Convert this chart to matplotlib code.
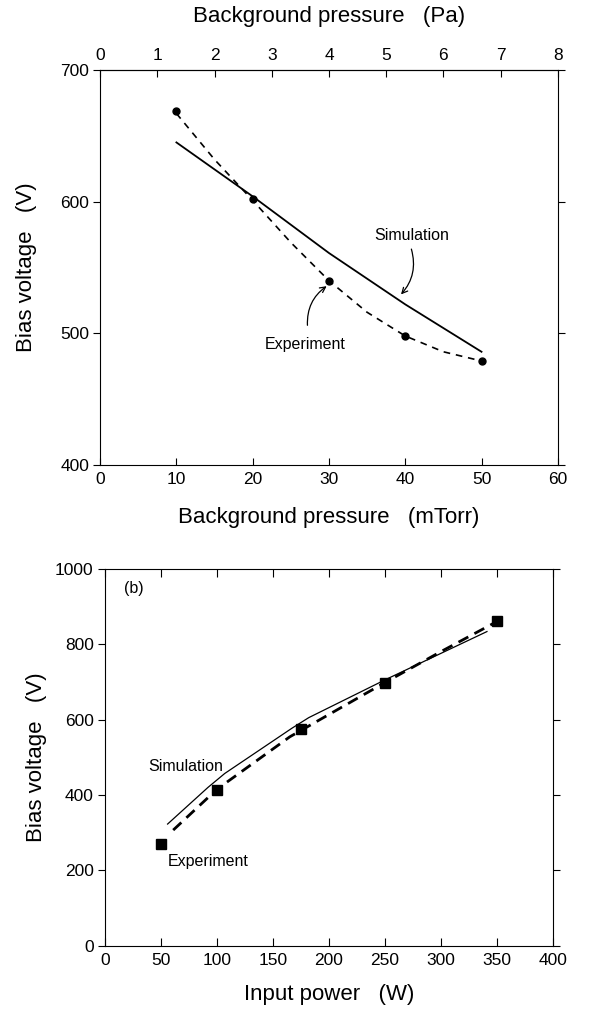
import matplotlib.pyplot as plt

plt.rcParams['font.family'] = ['Liberation Sans', 'DejaVu Sans']

# (a) bias voltage vs background pressure
pressure_mtorr = [10, 20, 30, 40, 50]
exp_bias_a = [669, 602, 540, 498, 479]
# dashed fit curve
exp_curve_x = [10, 15, 20, 25, 30, 35, 40, 45, 50]
exp_curve_y = [667, 632, 601, 569, 540, 516, 498, 486, 479]
sim_x_a = [10, 20, 30, 40, 50]
sim_y_a = [645, 604, 561, 522, 486]

# (b) bias voltage vs input power
power_w = [50, 100, 175, 250, 350]
exp_bias_b = [270, 413, 576, 698, 862]
exp_curve_bx = [61, 100, 165, 250, 300, 347]
exp_curve_by = [307, 415, 554, 698, 780, 855]
sim_x_b = [56, 92, 107, 167, 182, 250, 341]
sim_y_b = [323, 420, 457, 577, 605, 705, 833]

fig = plt.figure(figsize=(5.89, 10.10), dpi=100)

TICK = 12.5
LABEL = 16
NOTE = 11.5

##################################################
# top panel
##################################################
ax1 = fig.add_axes([0.170, 0.5396, 0.777, 0.3911])
ax1.plot(sim_x_a, sim_y_a, color='black', lw=1.3)
ax1.plot(exp_curve_x, exp_curve_y, color='black', lw=1.2, ls=(0, (4, 3.5)))
ax1.plot(pressure_mtorr, exp_bias_a, 'o', color='black', ms=5)
ax1.set_xlim(0, 60)
ax1.set_ylim(400, 700)
ax1.set_xticks(range(0, 61, 10))
ax1.set_yticks([400, 500, 600, 700])
ax1.tick_params(axis='x', direction='in', length=5, labelsize=TICK, pad=5)
ax1.tick_params(axis='y', direction='out', length=5, labelsize=TICK, pad=3, right=True)
ax1.set_xlabel('Background pressure   (mTorr)', fontsize=LABEL)
ax1.set_ylabel('Bias voltage   (V)', fontsize=LABEL)
ax1.xaxis.set_label_coords(0.5, -0.106)
ax1.yaxis.set_label_coords(-0.137, 0.5)

top = ax1.secondary_xaxis('top', functions=(lambda x: x / 7.5, lambda p: p * 7.5))
top.set_xticks(range(0, 9))
top.tick_params(direction='in', length=5, labelsize=TICK, pad=5)
top.set_xlabel('Background pressure   (Pa)', fontsize=LABEL, labelpad=19)

ax1.text(40.8, 574, 'Simulation', fontsize=NOTE, ha='center', va='center')
ax1.annotate('', xy=(39.2, 528), xytext=(40.7, 566),
             arrowprops=dict(arrowstyle='->', color='black', lw=0.9,
                             connectionstyle='arc3,rad=-0.3'))
ax1.text(26.9, 491.5, 'Experiment', fontsize=NOTE, ha='center', va='center')
ax1.annotate('', xy=(30.0, 537), xytext=(27.2, 504),
             arrowprops=dict(arrowstyle='->', color='black', lw=0.9,
                             connectionstyle='arc3,rad=-0.3'))

##################################################
# bottom panel
##################################################
ax2 = fig.add_axes([0.178, 0.0634, 0.761, 0.3737])
ax2.plot(sim_x_b, sim_y_b, color='black', lw=0.9)
ax2.plot(exp_curve_bx, exp_curve_by, color='black', lw=2.0, ls=(0, (4, 2.5)))
ax2.plot(power_w, exp_bias_b, 's', color='black', ms=7)
ax2.set_xlim(0, 400)
ax2.set_ylim(0, 1000)
ax2.set_xticks(range(0, 401, 50))
ax2.set_yticks(range(0, 1001, 200))
ax2.tick_params(axis='x', direction='in', length=6, labelsize=TICK, pad=5, top=True)
ax2.tick_params(axis='y', direction='out', length=5, labelsize=TICK, pad=3, right=True)
ax2.set_xlabel('Input power   (W)', fontsize=LABEL)
ax2.set_ylabel('Bias voltage   (V)', fontsize=LABEL)
ax2.xaxis.set_label_coords(0.5, -0.100)
ax2.yaxis.set_label_coords(-0.129, 0.5)
ax2.text(25.5, 948, '(b)', fontsize=NOTE, ha='center', va='center')
ax2.text(72, 475, 'Simulation', fontsize=NOTE, ha='center', va='center')
ax2.text(92, 223, 'Experiment', fontsize=NOTE, ha='center', va='center')

fig.savefig('out.png', dpi=100)
